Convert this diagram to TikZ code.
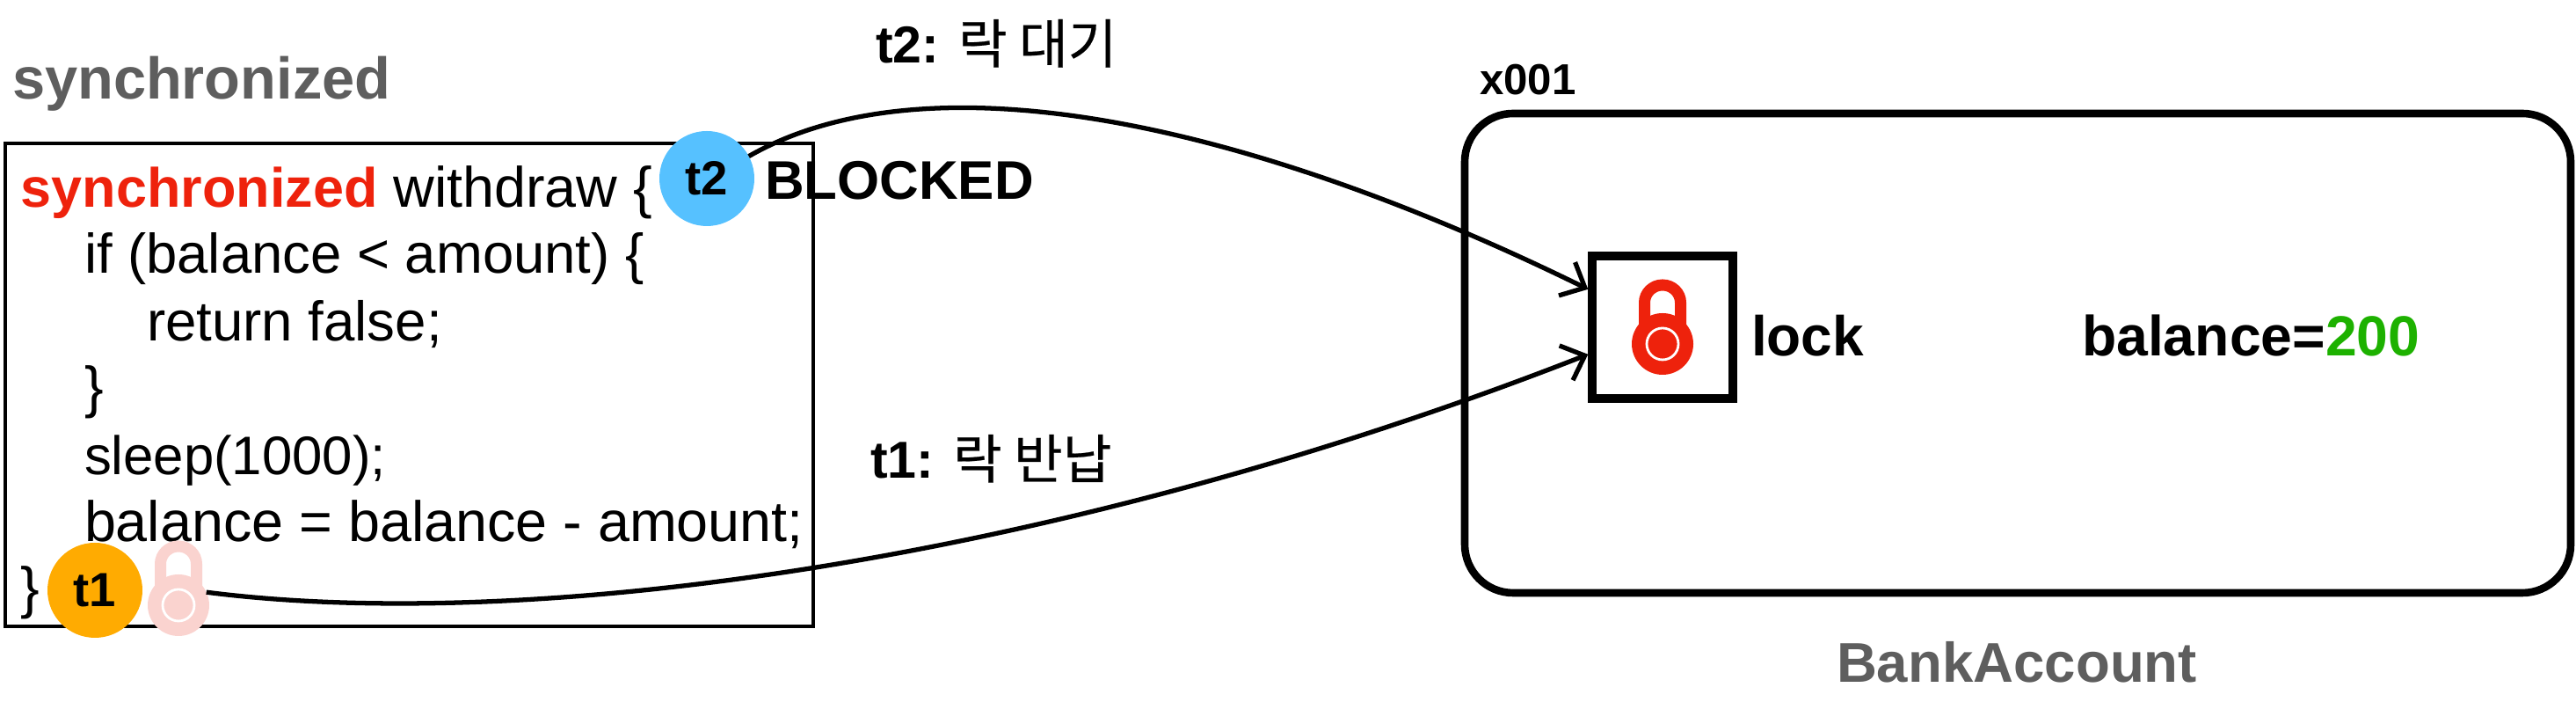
\documentclass[tikz,border=0pt]{standalone}
\usepackage{fontspec}
\setmainfont{Liberation Sans}
\newfontfamily\cjk[FakeBold=0.35]{Noto Sans CJK KR}
\usetikzlibrary{arrows.meta}
\definecolor{lockred}{HTML}{EE220C}
\definecolor{lockfaded}{HTML}{FAD3CF}
\definecolor{valgreen}{HTML}{1DB100}
\definecolor{capgray}{HTML}{5E5E5E}
\definecolor{threadblue}{HTML}{56C1FF}
\definecolor{threadorange}{HTML}{FFAB01}
\tikzset{
  txt/.style={inner sep=0pt,outer sep=0pt,anchor=base west},
  codeline/.style={txt,font=\fontsize{18.4}{22}\selectfont},
  boldlabel/.style={txt,font=\fontsize{18.2}{22}\selectfont\bfseries},
  caption/.style={txt,text=capgray,font=\fontsize{19}{22}\selectfont\bfseries},
  arrowlabel/.style={txt,font=\fontsize{16.8}{20}\selectfont},
  thread/.style={circle,minimum size=1.08cm,inner sep=0pt,outer sep=0pt,text=black,font=\fontsize{15.5}{18}\selectfont\bfseries},
  lockbody/.style={circle,minimum size=.7cm,inner sep=0pt,outer sep=0pt},
  lockring/.style={circle,draw=white,line width=.8pt,minimum size=.36cm,inner sep=0pt},
  conn/.style={line width=1.5pt,-{Straight Barb[length=6.5pt,width=12pt,line width=1.5pt]}},
}
\newcommand{\padlock}[3]{
  \draw [#3,line width=3.7pt] ([xshift=-.205cm]#2) ++(0,.2) -- ++(0,.27) arc [start angle=180,end angle=0,x radius=.205,y radius=.2] -- ++(0,-.27);
  \node [lockbody,fill=#3] (#1) at (#2) {};
  \node [lockring,fill=#3] (#1ring) at (#2) {};
}
\begin{document}
\begin{tikzpicture}
\useasboundingbox (0,0) rectangle (29.3,7.98);
\node [caption] (title) at (0.14,6.85) {synchronized};
\node [draw,line width=1.15pt,minimum width=9.19cm,minimum height=5.49cm,inner sep=0pt] (codebox) at (4.655,3.605) {};
\node [codeline] (c1) at (0.24,5.62) {\textcolor{lockred}{\fontsize{17.9}{22}\selectfont\bfseries synchronized} withdraw \{};
\node [codeline,font=\fontsize{18.05}{22}\selectfont] (c2) at (0.96,4.87) {if (balance < amount) \{};
\node [codeline,font=\fontsize{18.1}{22}\selectfont] (c3) at (1.67,4.10) {return false;};
\node [codeline] (c4) at (0.96,3.35) {\}};
\node [codeline,font=\fontsize{17.55}{22}\selectfont] (c5) at (0.96,2.58) {sleep(1000);};
\node [codeline] (c6) at (0.96,1.82) {balance = balance - amount;};
\node [codeline] (c7) at (0.24,1.07) {\}};
\node [boldlabel,font=\fontsize{17.6}{22}\selectfont\bfseries] (blocked) at (8.70,5.71) {BLOCKED};
\node [thread,fill=threadblue] (t2) at (8.04,5.95) {t2};
\node [thread,fill=threadorange] (t1) at (1.08,1.27) {t1};
\padlock{heldlock}{2.03,1.10}{lockfaded}
\node [boldlabel,font=\fontsize{14}{18}\selectfont\bfseries] (addr) at (16.83,6.90) {x001};
\node [draw,line width=2.45pt,rounded corners=.55cm,minimum width=12.58cm,minimum height=5.45cm,inner sep=0pt] (account) at (22.95,3.965) {};
\node [draw,line width=2.7pt,minimum width=1.6cm,minimum height=1.62cm,inner sep=0pt] (lockbox) at (18.91,4.26) {};
\padlock{lockicon}{18.91,4.07}{lockred}
\node [boldlabel] (locktext) at (19.92,3.93) {lock};
\node [boldlabel,font=\fontsize{18.3}{22}\selectfont\bfseries] (balance) at (23.68,3.93) {balance=\textcolor{valgreen}{200}};
\node [caption,font=\fontsize{18.1}{22}\selectfont\bfseries] (classname) at (20.89,0.22) {BankAccount};
\node [arrowlabel] (waitlabel) at (9.96,7.26) {\textbf{t2:} {\cjk\fontsize{17.2}{20}\selectfont 락 대기}};
\node [arrowlabel] (backlabel) at (9.90,2.54) {\textbf{t1:} {\cjk\fontsize{17.2}{20}\selectfont 락 반납}};
\draw [conn] (t2.28) .. controls (10.50,7.34) and (14.05,6.66) .. (lockbox.153);
\draw [conn] (heldlock.25) .. controls (6.00,0.78) and (12.00,1.58) .. (lockbox.200);
\end{tikzpicture}
\end{document}
